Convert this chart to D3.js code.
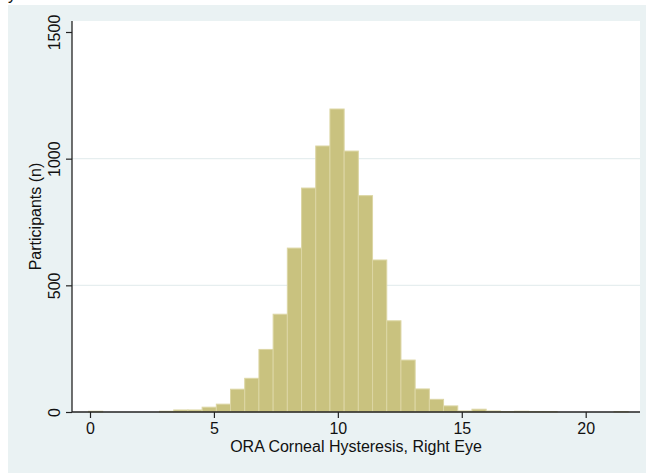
<!DOCTYPE html>
<html>
<head>
<meta charset="utf-8">
<script src="https://cdn.jsdelivr.net/npm/d3@7"></script>
<style>
  html, body { margin: 0; padding: 0; background: #ffffff; }
  svg { display: block; }
  text { font-family: "Liberation Sans", Arial, Helvetica, sans-serif; fill: #111; }
</style>
</head>
<body>
<svg id="chart" width="646" height="473"></svg>
<script>
// Histogram of ORA corneal hysteresis (right eye): counts per bin
const binStart = -0.06;   // left edge of first bin (mmHg)
const binWidth = 0.573;   // bin width (mmHg)
const counts = [
  3, 0, 0, 0, 0, 3, 8, 8, 19, 31,
  90, 133, 247, 386, 647, 884, 1050, 1196, 1030, 854,
  600, 360, 205, 91, 50, 24, 4, 11, 4, 2,
  3, 2, 2, 0, 0, 0, 0, 2
];
const xTicks = [0, 5, 10, 15, 20];
const yTicks = [0, 500, 1000, 1500];
const gridTicks = [500, 1000];
const xTitle = "ORA Corneal Hysteresis, Right Eye";
const yTitle = "Participants (n)";

const bins = counts.map((c, i) => ({
  x0: binStart + i * binWidth,
  x1: binStart + (i + 1) * binWidth,
  n: c
}));

const svg = d3.select("#chart");

// outer graph region
svg.append("rect")
  .attr("x", 8).attr("y", 5)
  .attr("width", 638).attr("height", 468)
  .attr("fill", "#eaf2f3");

// partially clipped label at top left
svg.append("text")
  .attr("x", 8).attr("y", -0.5)
  .attr("font-size", 16)
  .text("y");

const plot = { left: 72, right: 640, top: 21, bottom: 412 };

const x = d3.scaleLinear().domain([0, 20]).range([90, 585.7]);
const y = d3.scaleLinear().domain([0, 1500]).range([412, 32]);

// plot region
svg.append("rect")
  .attr("x", plot.left).attr("y", plot.top)
  .attr("width", plot.right - plot.left)
  .attr("height", plot.bottom - plot.top)
  .attr("fill", "#ffffff");

// horizontal grid lines
svg.append("g")
  .selectAll("line")
  .data(gridTicks)
  .join("line")
  .attr("x1", plot.left).attr("x2", plot.right)
  .attr("y1", d => y(d)).attr("y2", d => y(d))
  .attr("stroke", "#e6eeef")
  .attr("stroke-width", 1.2);

// bars
svg.append("g")
  .selectAll("rect")
  .data(bins.filter(b => b.n > 0))
  .join("rect")
  .attr("x", d => x(d.x0))
  .attr("width", d => x(d.x1) - x(d.x0))
  .attr("y", d => y(d.n))
  .attr("height", d => y(0) - y(d.n))
  .attr("fill", "#c9c27f")
  .attr("stroke", "#dcd6a4")
  .attr("stroke-width", 1);

// x axis
const xAxis = d3.axisBottom(x)
  .tickValues(xTicks)
  .tickSize(6)
  .tickPadding(5)
  .tickSizeOuter(0)
  .tickFormat(d3.format("d"));
const gx = svg.append("g")
  .attr("transform", `translate(0,${plot.bottom})`)
  .call(xAxis);
gx.select(".domain").remove();
gx.append("line")
  .attr("x1", plot.left).attr("x2", plot.right)
  .attr("y1", 0).attr("y2", 0)
  .attr("stroke", "#222").attr("stroke-width", 1.3);
gx.selectAll(".tick line").attr("stroke", "#222").attr("stroke-width", 1.2);
gx.selectAll(".tick text")
  .attr("font-size", 16)
  .attr("font-family", "Liberation Sans, Arial, sans-serif")
  .attr("fill", "#111");

// y axis
const yAxis = d3.axisLeft(y)
  .tickValues(yTicks)
  .tickSize(6)
  .tickSizeOuter(0)
  .tickFormat(d3.format("d"));
const gy = svg.append("g")
  .attr("transform", `translate(${plot.left},0)`)
  .call(yAxis);
gy.select(".domain").remove();
gy.append("line")
  .attr("x1", 0).attr("x2", 0)
  .attr("y1", plot.top).attr("y2", plot.bottom)
  .attr("stroke", "#222").attr("stroke-width", 1.3);
gy.selectAll(".tick line").attr("stroke", "#222").attr("stroke-width", 1.2);
gy.selectAll(".tick text")
  .attr("font-size", 16)
  .attr("font-family", "Liberation Sans, Arial, sans-serif")
  .attr("fill", "#111")
  .attr("x", null).attr("dy", null)
  .attr("text-anchor", "middle")
  .attr("transform", "translate(-12,0) rotate(-90)");

// axis titles
svg.append("text")
  .attr("x", (plot.left + plot.right) / 2)
  .attr("y", 452)
  .attr("text-anchor", "middle")
  .attr("font-size", 16)
  .text(xTitle);

svg.append("text")
  .attr("transform", `translate(41,${(plot.top + plot.bottom) / 2}) rotate(-90)`)
  .attr("text-anchor", "middle")
  .attr("font-size", 16)
  .text(yTitle);
</script>
</body>
</html>
